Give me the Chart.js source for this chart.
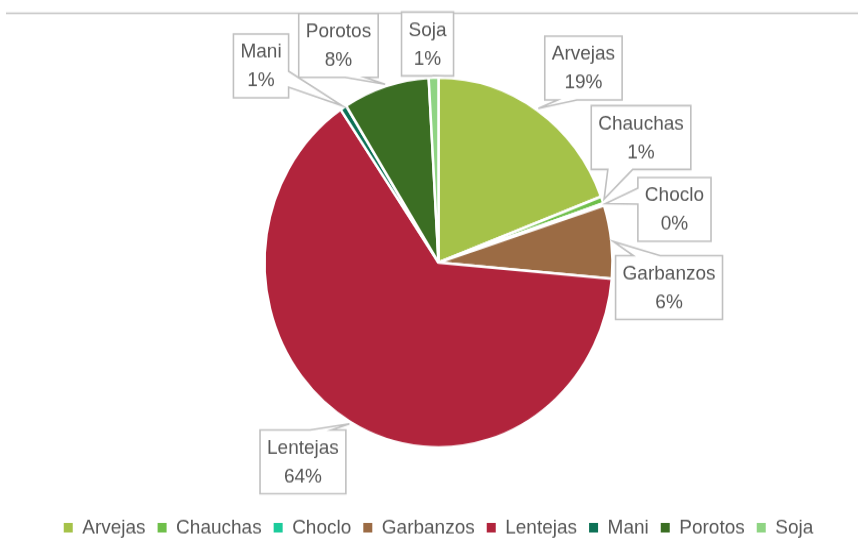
<!DOCTYPE html>
<html>
<head>
<meta charset="utf-8">
<script src="https://cdn.jsdelivr.net/npm/chart.js@4/dist/chart.umd.min.js"></script>
<style>
  html, body { margin: 0; padding: 0; background: #ffffff; overflow: hidden; }
  #c { display: block; width: 858px !important; height: 541px !important; }
</style>
</head>
<body>
<canvas id="c" width="858" height="509" style="width:858px;height:541px;display:block;"></canvas>
<script>
// ---- data ----
const categories = ['Arvejas', 'Chauchas', 'Choclo', 'Garbanzos', 'Lentejas', 'Mani', 'Porotos', 'Soja'];
const shares = [19.2, 0.6, 0.2, 6.4, 64.1, 0.6, 8.0, 0.9];
const sliceColors = ['#a5c249', '#6fbf4a', '#1ccb9b', '#9b6b44', '#b1243c', '#0d7156', '#3b6e23', '#8fd483'];

// label box placement (as multiples of the pie radius, relative to the pie centre)
const labelOffsets = [
  [0.833, -1.052], [1.164, -0.676], [1.356, -0.287], [1.325, 0.135],
  [-0.779, 1.078], [-1.020, -1.063], [-0.575, -1.174], [-0.063, -1.182]
];

const FONT = "'Liberation Sans', Arial, sans-serif";
const TEXT_COLOR = '#595959';

function calloutPath(ctx, l, t, w, h, px, py) {
  const r = l + w, b = t + h;
  const dxPos = px - (l + w / 2), dyPos = py - (t + h / 2);
  const dq = dxPos * h / w;
  const dz = Math.abs(dyPos) - Math.abs(dq);
  const x1 = l + w * (dxPos > 0 ? 7 : 2) / 12, x2 = l + w * (dxPos > 0 ? 10 : 5) / 12;
  const y1 = t + h * (dyPos > 0 ? 7 : 2) / 12, y2 = t + h * (dyPos > 0 ? 10 : 5) / 12;
  let edge;
  if (dz > 0) edge = dyPos > 0 ? 'bottom' : 'top';
  else edge = dxPos > 0 ? 'right' : 'left';
  ctx.beginPath();
  ctx.moveTo(l, t);
  if (edge === 'top') { ctx.lineTo(x1, t); ctx.lineTo(px, py); ctx.lineTo(x2, t); }
  ctx.lineTo(r, t);
  if (edge === 'right') { ctx.lineTo(r, y1); ctx.lineTo(px, py); ctx.lineTo(r, y2); }
  ctx.lineTo(r, b);
  if (edge === 'bottom') { ctx.lineTo(x2, b); ctx.lineTo(px, py); ctx.lineTo(x1, b); }
  ctx.lineTo(l, b);
  if (edge === 'left') { ctx.lineTo(l, y2); ctx.lineTo(px, py); ctx.lineTo(l, y1); }
  ctx.closePath();
}

const decorPlugin = {
  id: 'decor',
  beforeDraw(chart) {
    const ctx = chart.ctx;
    ctx.save();
    ctx.strokeStyle = '#c4c4c4';
    ctx.lineWidth = 1.3;
    ctx.beginPath();
    ctx.moveTo(6, 12.5);
    ctx.lineTo(chart.width, 12.5);
    ctx.stroke();
    ctx.restore();
  },
  afterDatasetsDraw(chart) {
    const ctx = chart.ctx;
    const meta = chart.getDatasetMeta(0);
    const data = chart.data.datasets[0].data;
    const total = data.reduce((a, v) => a + v, 0);
    ctx.save();
    ctx.font = '19px ' + FONT;
    meta.data.forEach((arc, i) => {
      const p = arc.getProps(['x', 'y', 'startAngle', 'endAngle', 'outerRadius'], true);
      const mid = (p.startAngle + p.endAngle) / 2;
      const tipR = p.outerRadius + 2;
      const px = p.x + Math.cos(mid) * tipR;
      const py = p.y + Math.sin(mid) * tipR;
      const cx = p.x + labelOffsets[i][0] * p.outerRadius;
      const cy = p.y + labelOffsets[i][1] * p.outerRadius;
      const name = chart.data.labels[i];
      const pct = Math.round(data[i] / total * 100) + '%';
      const tw = Math.max(ctx.measureText(name).width, ctx.measureText(pct).width);
      const w = tw + 14, h = 60;
      const l = cx - w / 2, t = cy - h / 2;
      calloutPath(ctx, l, t, w, h, px, py);
      ctx.fillStyle = '#ffffff';
      ctx.fill();
      ctx.strokeStyle = '#c0c0c0';
      ctx.lineWidth = 1.6;
      ctx.lineJoin = 'miter';
      ctx.stroke();
      ctx.fillStyle = TEXT_COLOR;
      ctx.textAlign = 'center';
      ctx.textBaseline = 'middle';
      ctx.fillText(name, cx, t + 17);
      ctx.fillText(pct, cx, t + 44);
    });
    ctx.restore();
  }
};

Chart.defaults.font.family = FONT;
Chart.defaults.color = TEXT_COLOR;

new Chart(document.getElementById('c'), {
  type: 'pie',
  data: {
    labels: categories,
    datasets: [{
      data: shares,
      backgroundColor: sliceColors,
      borderColor: '#ffffff',
      borderWidth: 2.5,
      radius: 174
    }]
  },
  options: {
    responsive: false,
    animation: false,
    devicePixelRatio: 1,
    layout: { padding: { top: 19, left: 19, right: 0, bottom: -7 } },
    plugins: {
      legend: {
        position: 'bottom',
        labels: {
          font: { size: 19, family: FONT },
          color: TEXT_COLOR,
          boxWidth: 9,
          boxHeight: 9,
          padding: 12,
          generateLabels(chart) {
            const base = Chart.overrides.pie.plugins.legend.labels.generateLabels(chart);
            return base.map(item => Object.assign({}, item, { lineWidth: 0, strokeStyle: item.fillStyle }));
          }
        }
      },
      tooltip: { enabled: false }
    }
  },
  plugins: [decorPlugin]
});
</script>
</body>
</html>
